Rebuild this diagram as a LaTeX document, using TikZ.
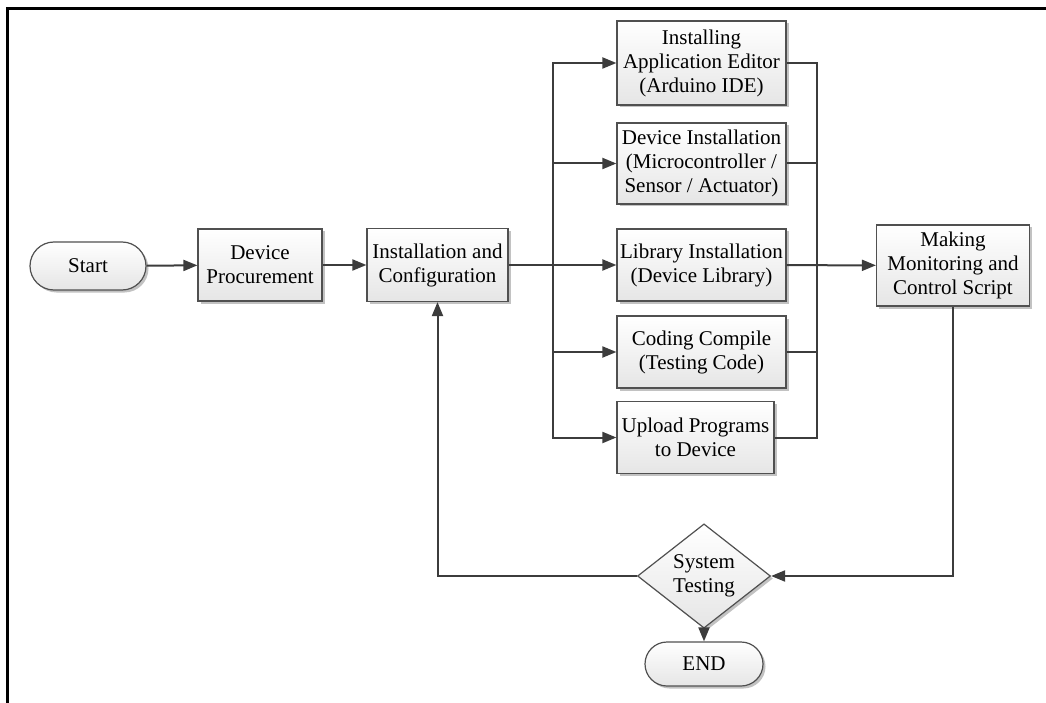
\documentclass[tikz,border=0pt]{standalone}
\usepackage{fontspec}
\setmainfont{Liberation Serif}
\usetikzlibrary{arrows.meta,shapes.geometric,shapes.misc,shadows}
\definecolor{linec}{HTML}{3C3C3C}
\definecolor{boxc}{HTML}{505050}
\begin{document}
\begin{tikzpicture}[x=1pt,y=-1pt,
  base/.style={draw=boxc, line width=1.2pt, top color=white, bottom color=gray!20,
    drop shadow={shadow xshift=2.5pt,shadow yshift=-2.5pt,fill=gray!80,opacity=0.6},
    align=center, inner sep=2pt, font=\fontsize{21}{24}\selectfont},
  box/.style={base, rectangle},
  pill/.style={base, rounded rectangle, rounded rectangle arc length=180, minimum width=120pt, minimum height=48pt},
  decision/.style={base, diamond, inner sep=0pt, minimum width=133pt, minimum height=86pt},
  conn/.style={draw=linec, line width=2pt},
  arr/.style={conn, -{Triangle[length=14pt,width=11pt]}}
]
\useasboundingbox (0,0) rectangle (1046,703);
\draw[line width=3pt, line join=miter] (7.5,703) -- (7.5,8.5) -- (1046,8.5);

\node[pill] (start) at (88,266) {Start};
\node[box, minimum width=124pt, minimum height=72pt] (dp) at (260,265) {Device\\Procurement};
\node[box, minimum width=141pt, minimum height=73pt] (ic) at (437.5,265) {Installation and\\Configuration};

\node[box, minimum width=169pt, minimum height=84pt] (app) at (701.5,63) {Installing\\Application Editor\\(Arduino IDE)};
\node[box, minimum width=169pt, minimum height=81pt] (dev) at (701.5,163.5) {Device Installation\\(Microcontroller /\\Sensor / Actuator)};
\node[box, minimum width=169pt, minimum height=72pt] (lib) at (701.5,265) {Library Installation\\(Device Library)};
\node[box, minimum width=169pt, minimum height=72pt] (cod) at (701.5,352) {Coding Compile\\(Testing Code)};
\node[box, minimum width=157pt, minimum height=72pt] (upl) at (695.5,437.5) {Upload Programs\\to Device};

\node[box, minimum width=153pt, minimum height=81pt] (mk) at (953,265.5) {Making\\Monitoring and\\Control Script};

\node[decision] (st) at (704,576) {System\\Testing};
\node[pill, minimum width=122pt, minimum height=44pt] (end) at (704,664) {END};

\coordinate (bl) at (553,265);
\coordinate (br) at (817,265);

\draw[arr] (start) -- (dp);
\draw[arr] (dp) -- (ic);
\draw[arr] (ic) -- (lib);
\draw[arr] (bl) |- (app.west);
\draw[arr] (bl) |- (dev.west);
\draw[arr] (bl) |- (cod.west);
\draw[arr] (bl) |- (upl.west);
\draw[conn] (app.east) -| (br);
\draw[conn] (dev.east) -| (br);
\draw[conn] (cod.east) -| (br);
\draw[conn] (upl.east) -| (br);
\draw[arr] (lib) -- (mk);
\draw[arr] (mk.south) |- (st.east);
\draw[arr] (st.west) -| (ic.south);
\draw[arr] (st) -- (end);
\end{tikzpicture}
\end{document}
